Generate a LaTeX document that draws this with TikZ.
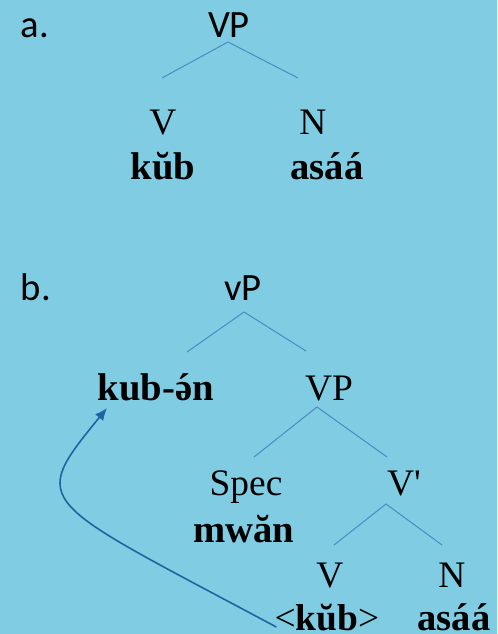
\documentclass[tikz,border=0pt]{standalone}
\usepackage{fontspec}
\setmainfont{Liberation Serif}
\newfontfamily\straight{Liberation Serif}[Ligatures=ResetAll,Mapping=]
\newfontfamily\calibri{Carlito}
\usetikzlibrary{calc,arrows.meta}
\definecolor{sky}{HTML}{80CCE2}
\definecolor{branchblue}{HTML}{4A8EC6}
\definecolor{moveblue}{HTML}{1E64A0}
\newcommand{\schwaacute}{\ooalign{ə\cr\hidewidth´\hidewidth\cr}}

\begin{document}
\begin{tikzpicture}[x=.02cm,y=-.02cm,
	cat/.style={anchor=base,inner sep=0,font=\fontsize{21.3}{25}\selectfont},
	word/.style={cat,font=\fontsize{22}{26}\selectfont\bfseries},
	lab/.style={anchor=base,inner sep=0,font=\calibri\fontsize{22}{26}\selectfont},
	branch/.style={draw=branchblue,line width=.6pt}]
	\fill[sky] (0,0) rectangle (497,634);
	% tree a
	\node[lab] (a) at (35,38) {a.};
	\node[lab] (VPa) at (229,38) {VP};
	\foreach \n/\x/\y/\t in {Va/163/135/V,Na/313/135/N} \node[cat] (\n) at (\x,\y) {\t};
	\foreach \n/\x/\y/\t in {kuba/163/180/kŭb,asaaa/327/180/asáá} \node[word] (\n) at (\x,\y) {\t};
	% tree b
	\node[lab] (b) at (36,300) {b.};
	\node[lab] (vP) at (243,300) {vP};
	\node[word] (kub) at (156,400) {kub-\schwaacute n};
	\foreach \n/\x/\y/\t in {VPb/329/400/VP,Spec/246/495/Spec,Vb/330/587/V,Nb/452/587/N} \node[cat] (\n) at (\x,\y) {\t};
	\node[cat] (Vbar) at (404,495) {V{\straight'}};
	\node[word] (mwan) at (244,542) {mwăn};
	\node[cat] (trace) at (327,630) {<\textbf{kŭb}>};
	\node[word] (asaab) at (454,630) {asáá};
	% branches
	\foreach \p/\c/\s/\e in {VPa/Va/{-1,4}/{-1,-57},VPa/Na/{-1,4}/{-15,-57},
		vP/kub/{1,12}/{31,-48},vP/VPb/{1,12}/{-23,-49},
		VPb/Spec/{-12,7}/{8,-38},VPb/Vbar/{-12,7}/{-17,-38},
		Vbar/Vb/{-18,9}/{4,-42},Vbar/Nb/{-18,9}/{-10,-42}}
		\draw[branch] ($(\p.base)+(\s)$) -- ($(\c.base)+(\e)$);
	% head movement
	\draw[moveblue,line width=.9pt,-{Latex[length=7pt,width=6pt]}] ($(trace.base west)+(2,-3)$) .. controls (35,498) and (28,505) .. ($(kub.base)+(-49,8)$);
\end{tikzpicture}
\end{document}
